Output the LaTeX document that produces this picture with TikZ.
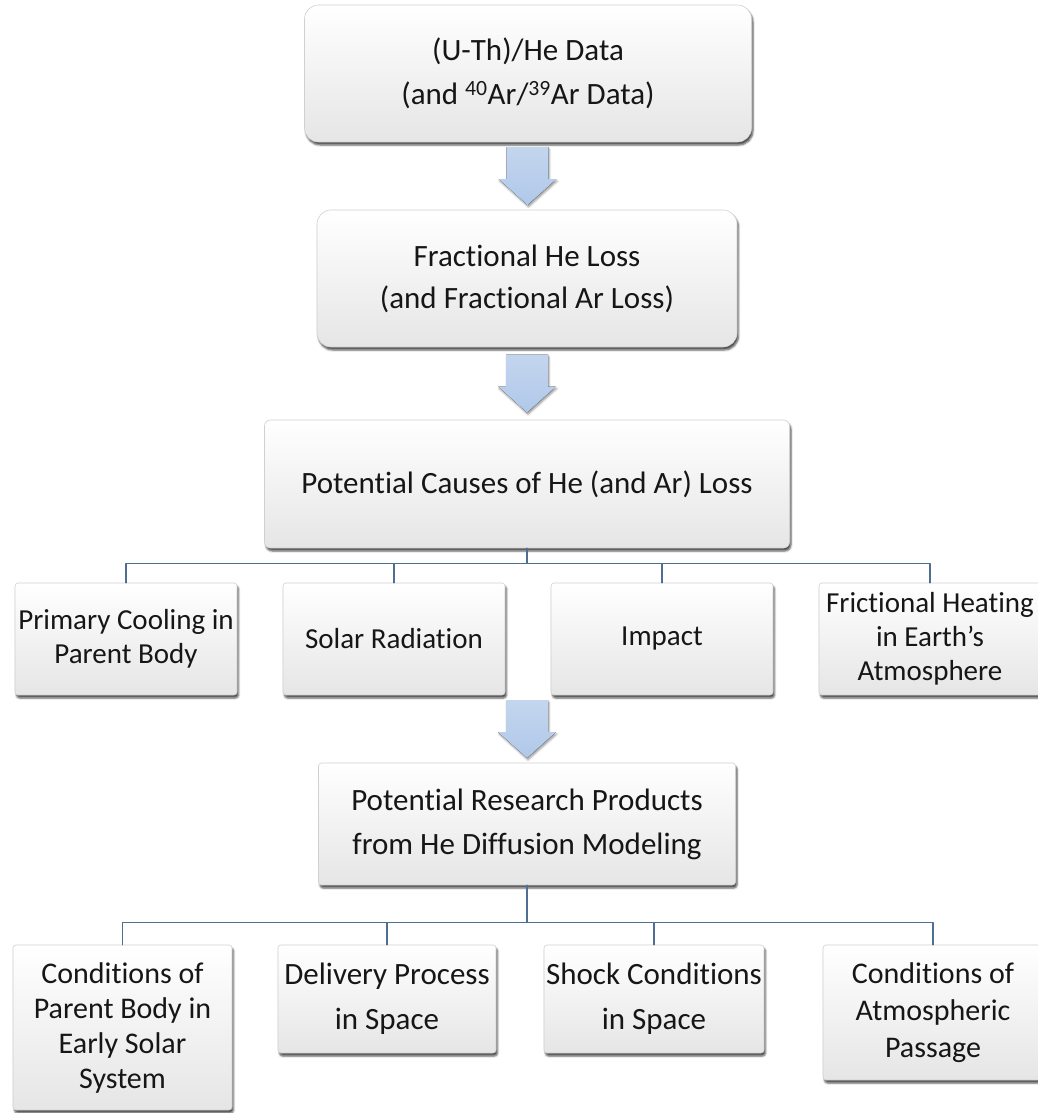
\documentclass[tikz,border=0pt]{standalone}
\usepackage{fontspec}
\setmainfont{Carlito}[Ligatures=NoCommon]
\usetikzlibrary{calc,shadows,shadows.blur}
\definecolor{linkblue}{RGB}{78,110,148}
\definecolor{arrowblue}{RGB}{176,200,233}
\definecolor{boxedge}{RGB}{208,208,208}
\definecolor{inktext}{RGB}{22,22,22}
\tikzset{
  box/.style={draw=boxedge, line width=0.6pt, top color=white, bottom color=black!10,
    align=center, inner sep=2pt, text=inktext,
    blur shadow={shadow xshift=1.5pt, shadow yshift=-3pt, shadow opacity=70, shadow blur steps=4}},
  headbox/.style={box, rounded corners=14pt, font=\fontsize{31}{44}\selectfont},
  rowbox/.style={box, rounded corners=3pt, minimum width=222pt, font=\fontsize{29}{34}\selectfont},
  link/.style={draw=linkblue, line width=1.5pt},
  downarrow/.pic={
    \fill[top color=arrowblue!75!white, bottom color=arrowblue,
      blur shadow={shadow xshift=1pt, shadow yshift=-2pt, shadow opacity=40, shadow blur steps=3}]
      (-21,-29) -- (21,-29) -- (21,3) -- (29,3) -- (0,29) -- (-29,3) -- (-21,3) -- cycle;
  }
}
\begin{document}
\begin{tikzpicture}[x=1pt, y=-1pt, line join=round, line cap=round]
  \useasboundingbox (0,0) rectangle (1037,1113);
  % first two steps
  \node[headbox, minimum width=447pt, minimum height=137pt] (data) at (528,73.5)
    {(U-Th)/He Data\\(and \textsuperscript{40}Ar/\textsuperscript{39}Ar Data)};
  \node[headbox, minimum width=420pt, minimum height=137pt, font=\fontsize{31}{42}\selectfont] (loss) at (527,278.5)
    {Fractional He Loss\\(and Fractional Ar Loss)};
  \node[box, rounded corners=6pt, minimum width=525pt, minimum height=128pt, font=\fontsize{31}{36}\selectfont] (causes) at (527,484)
    {Potential Causes of He (and Ar) Loss};
  % causes
  \node[rowbox, minimum height=112pt] (cool) at (126,639) {Primary Cooling in\\Parent Body};
  \node[rowbox, minimum height=112pt] (solar) at (394,639) {Solar Radiation};
  \node[rowbox, minimum height=112pt] (impact) at (662,639) {Impact};
  \node[rowbox, minimum height=112pt] (friction) at (930,639) {Frictional Heating\\in Earth’s\\Atmosphere};
  % products
  \node[box, rounded corners=3pt, minimum width=417pt, minimum height=122pt, font=\fontsize{31}{44}\selectfont] (research) at (527,824)
    {Potential Research Products\\from He Diffusion Modeling};
  \node[rowbox, minimum width=219pt, minimum height=165pt, font=\fontsize{30}{35}\selectfont] (early) at (122.5,1027.5)
    {Conditions of\\Parent Body in\\Early Solar\\System};
  \node[rowbox, minimum width=218pt, minimum height=108pt, font=\fontsize{31}{45}\selectfont] (delivery) at (387,999)
    {Delivery Process\\in Space};
  \node[rowbox, minimum width=220pt, minimum height=108pt, font=\fontsize{31}{45}\selectfont] (shock) at (654,999)
    {Shock Conditions\\in Space};
  \node[rowbox, minimum width=220pt, minimum height=135pt, font=\fontsize{30}{37}\selectfont] (passage) at (933,1012.5)
    {Conditions of\\Atmospheric\\Passage};
  % block arrows
  \pic at ($(data.south)!.5!(loss.north)$) {downarrow};
  \pic at ($(loss.south)!.5!(causes.north)$) {downarrow};
  \pic at ($(solar.south -| causes.south)!.5!(research.north)$) {downarrow};
  % tree lines
  \draw[link] (causes.south) -- ++(0,15) coordinate (busA);
  \foreach \n in {cool,solar,impact,friction}
    \draw[link] (busA) -| (\n.north);
  \draw[link] (research.south) -- ++(0,37) coordinate (busB);
  \foreach \n in {early,delivery,shock,passage}
    \draw[link] (busB) -| (\n.north);
\end{tikzpicture}
\end{document}
